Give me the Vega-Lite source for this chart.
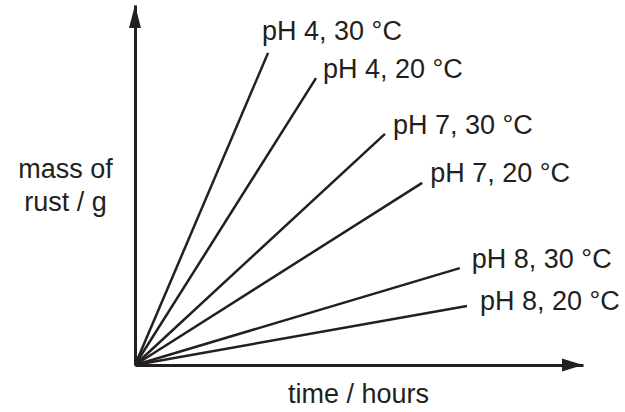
{
  "$schema": "https://vega.github.io/schema/vega-lite/v6.json",
  "width": 448,
  "height": 360,
  "autosize": {"type": "none"},
  "padding": {"left": 135, "top": 5, "right": 42, "bottom": 47},
  "background": "white",
  "config": {"view": {"stroke": null}, "font": "Liberation Sans"},
  "datasets": {
    "lines": [
      {"series": "pH 4, 30 °C", "time": 0, "mass": 0},
      {"series": "pH 4, 30 °C", "time": 29.7, "mass": 86.7},
      {"series": "pH 4, 20 °C", "time": 0, "mass": 0},
      {"series": "pH 4, 20 °C", "time": 40.4, "mass": 79.7},
      {"series": "pH 7, 30 °C", "time": 0, "mass": 0},
      {"series": "pH 7, 30 °C", "time": 55.8, "mass": 64.2},
      {"series": "pH 7, 20 °C", "time": 0, "mass": 0},
      {"series": "pH 7, 20 °C", "time": 64.1, "mass": 50.6},
      {"series": "pH 8, 30 °C", "time": 0, "mass": 0},
      {"series": "pH 8, 30 °C", "time": 72.5, "mass": 26.9},
      {"series": "pH 8, 20 °C", "time": 0, "mass": 0},
      {"series": "pH 8, 20 °C", "time": 74.1, "mass": 16.4}
    ]
  },
  "encoding": {
    "x": {"field": "time", "type": "quantitative", "scale": {"domain": [0, 100], "nice": false}},
    "y": {"field": "mass", "type": "quantitative", "scale": {"domain": [0, 100], "nice": false}}
  },
  "layer": [
    {
      "data": {"name": "lines"},
      "mark": {"type": "line", "color": "#231f20", "strokeWidth": 2.5, "strokeCap": "butt"},
      "encoding": {
        "x": {"field": "time", "type": "quantitative", "scale": {"domain": [0, 100], "nice": false},
          "axis": {"title": "time / hours", "domain": true, "domainColor": "#231f20", "domainWidth": 3, "ticks": false, "labels": false, "grid": false,
            "titleFontSize": 27, "titleFontWeight": "normal", "titleColor": "#231f20", "titleFont": "Liberation Sans",
            "titleX": 223, "titleY": 37, "titleBaseline": "alphabetic", "titleAlign": "center", "titleAnchor": null}},
        "y": {"field": "mass", "type": "quantitative", "scale": {"domain": [0, 100], "nice": false},
          "axis": {"title": ["mass of", "rust / g"], "domain": true, "domainColor": "#231f20", "domainWidth": 3, "ticks": false, "labels": false, "grid": false,
            "titleFontSize": 27, "titleFontWeight": "normal", "titleColor": "#231f20", "titleFont": "Liberation Sans", "titleAngle": 0,
            "titleX": -70, "titleY": 172, "titleBaseline": "alphabetic", "titleAlign": "center", "titleLineHeight": 33}},
        "detail": {"field": "series", "type": "nominal"}
      }
    },
    {
      "data": {"values": [{"time": 0, "mass": 100}]},
      "mark": {"type": "point", "filled": true, "color": "#231f20", "opacity": 1, "size": 576, "shape": "M0,0L0.5,1.92L-0.5,1.92Z", "strokeWidth": 0}
    },
    {
      "data": {"values": [{"time": 100, "mass": 0}]},
      "mark": {"type": "point", "filled": true, "color": "#231f20", "opacity": 1, "size": 576, "shape": "M0,0L-1.75,-0.54L-1.75,0.54Z", "strokeWidth": 0}
    },
    {
      "data": {"name": "lines"},
      "transform": [{"filter": "datum.time > 0 && datum.series == 'pH 4, 30 °C'"}],
      "mark": {"type": "text", "align": "left", "baseline": "middle", "fontSize": 27, "color": "#231f20", "dx": -6, "dy": -21},
      "encoding": {"text": {"field": "series"}}
    },
    {
      "data": {"name": "lines"},
      "transform": [{"filter": "datum.time > 0 && datum.series == 'pH 4, 20 °C'"}],
      "mark": {"type": "text", "align": "left", "baseline": "middle", "fontSize": 27, "color": "#231f20", "dx": 7, "dy": -8},
      "encoding": {"text": {"field": "series"}}
    },
    {
      "data": {"name": "lines"},
      "transform": [{"filter": "datum.time > 0 && datum.series == 'pH 7, 30 °C'"}],
      "mark": {"type": "text", "align": "left", "baseline": "middle", "fontSize": 27, "color": "#231f20", "dx": 8, "dy": -7.5},
      "encoding": {"text": {"field": "series"}}
    },
    {
      "data": {"name": "lines"},
      "transform": [{"filter": "datum.time > 0 && datum.series == 'pH 7, 20 °C'"}],
      "mark": {"type": "text", "align": "left", "baseline": "middle", "fontSize": 27, "color": "#231f20", "dx": 8, "dy": -9},
      "encoding": {"text": {"field": "series"}}
    },
    {
      "data": {"name": "lines"},
      "transform": [{"filter": "datum.time > 0 && datum.series == 'pH 8, 30 °C'"}],
      "mark": {"type": "text", "align": "left", "baseline": "middle", "fontSize": 27, "color": "#231f20", "dx": 12, "dy": -8},
      "encoding": {"text": {"field": "series"}}
    },
    {
      "data": {"name": "lines"},
      "transform": [{"filter": "datum.time > 0 && datum.series == 'pH 8, 20 °C'"}],
      "mark": {"type": "text", "align": "left", "baseline": "middle", "fontSize": 27, "color": "#231f20", "dx": 13, "dy": -4},
      "encoding": {"text": {"field": "series"}}
    }
  ]
}
